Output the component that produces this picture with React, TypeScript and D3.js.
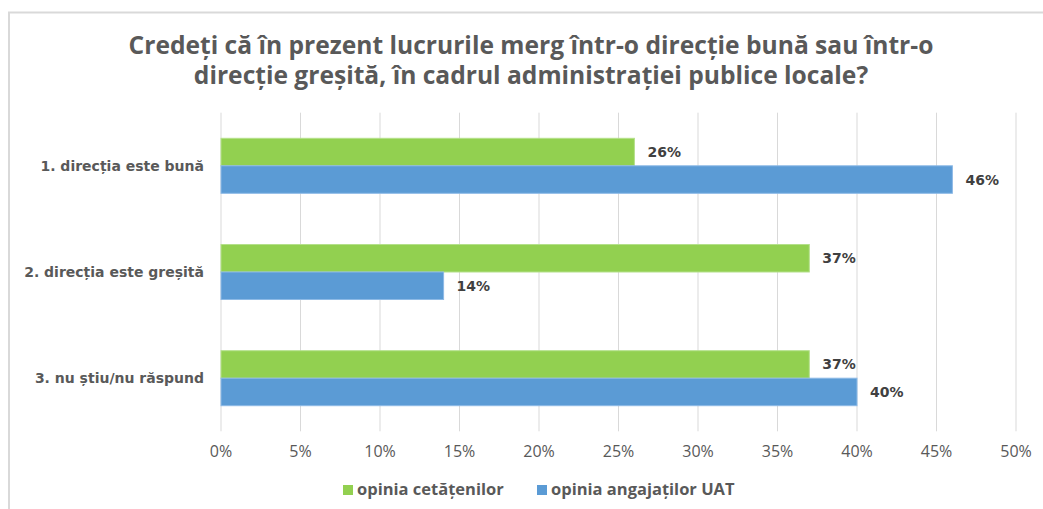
import React from "react";
import * as d3 from "d3";

const titleLines = [
  "Credeți că în prezent lucrurile merg într-o direcție bună sau într-o",
  "direcție greșită, în cadrul administrației publice locale?",
];
const categories = ["1. direcția este bună", "2. direcția este greșită", "3. nu știu/nu răspund"];
const seriesNames = ["opinia cetățenilor", "opinia angajaților UAT"];
const citizens = [26, 37, 37];
const employees = [46, 14, 40];
const ticks = [0, 5, 10, 15, 20, 25, 30, 35, 40, 45, 50];
const colors = ["#92D050", "#5B9BD5"];
const strokes = ["#B4E08A", "#8DBAE6"];

const W = 1043;
const H = 509;

export default function App() {
  const x = d3.scaleLinear().domain([0, 50]).range([221, 1016]);
  const y = d3.scaleBand<string>().domain(categories).range([112.7, 431.3]).paddingInner(0).paddingOuter(0);
  const series = [citizens, employees];
  const bandW = y.bandwidth();
  const barH = 27.5;
  const fontOS = "'Open Sans', sans-serif";
  const fontDV = "'DejaVu Sans', Verdana, sans-serif";

  return (
    <svg width={W} height={H} style={{ position: "absolute", left: 0, top: 0, background: "#fff" }}>
      <rect x={9} y={12.5} width={W + 10} height={H + 10} fill="#fff" stroke="#D9D9D9" strokeWidth={2} />
      {titleLines.map((t, i) => (
        <text key={i} x={531} y={54 + i * 30} textAnchor="middle" fontFamily={fontOS} fontWeight={700} fontSize={24.6} fill="#595959">
          {t}
        </text>
      ))}
      {ticks.map((t) => (
        <line key={t} x1={x(t)} x2={x(t)} y1={112.7} y2={431.3} stroke="#D9D9D9" strokeWidth={1} />
      ))}
      {categories.map((c, ci) => {
        const center = (y(c) as number) + bandW / 2;
        return (
          <g key={c}>
            {series.map((s, si) => {
              const top = center - barH + si * barH;
              return (
                <g key={si}>
                  <rect x={x(0)} y={top} width={x(s[ci]) - x(0)} height={barH} fill={colors[si]} stroke={strokes[si]} strokeWidth={1} />
                  <text x={x(s[ci]) + 13} y={top + barH / 2 + 5} fontFamily={fontDV} fontWeight={700} fontSize={14} fill="#404040">
                    {s[ci]}%
                  </text>
                </g>
              );
            })}
            <text x={204} y={center + 5} textAnchor="end" fontFamily={fontDV} fontWeight={700} fontSize={14} fill="#595959">
              {c}
            </text>
          </g>
        );
      })}
      {ticks.map((t) => (
        <text key={t} x={x(t)} y={457} textAnchor="middle" fontFamily={fontOS} fontSize={16} fill="#595959">
          {t}%
        </text>
      ))}
      {seriesNames.map((n, i) => {
        const lx = [343, 537][i];
        return (
          <g key={n}>
            <rect x={lx} y={485} width={10} height={10} fill={colors[i]} />
            <text x={lx + 14} y={495} fontFamily={fontOS} fontWeight={700} fontSize={16.5} fill="#595959">
              {n}
            </text>
          </g>
        );
      })}
    </svg>
  );
}
